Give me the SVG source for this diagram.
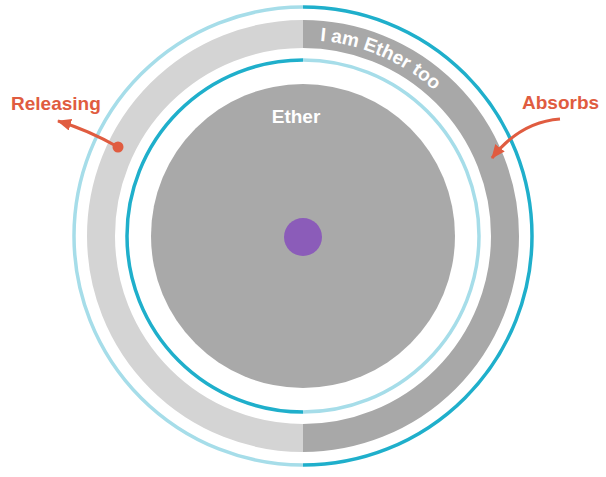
<svg xmlns="http://www.w3.org/2000/svg" width="606" height="477" viewBox="0 0 606 477">
<style>
.ring{fill:none;stroke-width:3.5}
.lb{stroke:#a6dde9}
.db{stroke:#1fafcb}
.band{fill:none;stroke-width:28}
.lab{font-family:"Liberation Sans",Arial,sans-serif;font-weight:bold;font-size:19px}
.arrow{fill:none;stroke:#e05c40;stroke-width:3}
</style>
<defs>
<marker id="ah" markerUnits="userSpaceOnUse" markerWidth="16" markerHeight="14" refX="13" refY="6" orient="auto">
<path d="M0,0 L14,6 L0,12 Z" fill="#e05c40"/>
</marker>
<path id="tp" d="M303,40 A196,196 0 0 1 303,432"/>
</defs>
<g id="outer-ring">
<path class="ring lb" d="M303,7 A229,229 0 0 0 303,465"/>
<path class="ring db" d="M303,7 A229,229 0 0 1 303,465"/>
</g>
<g id="band">
<path class="band" stroke="#d4d4d4" d="M303,34 A202,202 0 0 0 303,438"/>
<path class="band" stroke="#a8a8a8" d="M303,34 A202,202 0 0 1 303,438"/>
<text class="lab" fill="#ffffff"><textPath href="#tp" startOffset="17">I am Ether too</textPath></text>
</g>
<g id="inner-ring">
<path class="ring db" d="M303,60 A176,176 0 0 0 303,412"/>
<path class="ring lb" d="M303,60 A176,176 0 0 1 303,412"/>
</g>
<g id="ether">
<circle cx="303" cy="236" r="152" fill="#a9a9a9"/>
<text class="lab" x="296" y="123" text-anchor="middle" fill="#ffffff">Ether</text>
</g>
<g id="core">
<circle cx="303" cy="237" r="19" fill="#8b5cb9"/>
</g>
<g id="releasing">
<text class="lab" x="11" y="110" fill="#e05c40">Releasing</text>
</g>
<g id="absorbs">
<text class="lab" x="522" y="109" fill="#e05c40">Absorbs</text>
</g>
<g id="connectors">
<path class="arrow" d="M118,147 Q88,130 58,121" marker-end="url(#ah)"/>
<circle cx="118" cy="147" r="5.5" fill="#e05c40"/>
<path class="arrow" d="M560,119 Q520,122 492,158" marker-end="url(#ah)"/>
</g>
</svg>
